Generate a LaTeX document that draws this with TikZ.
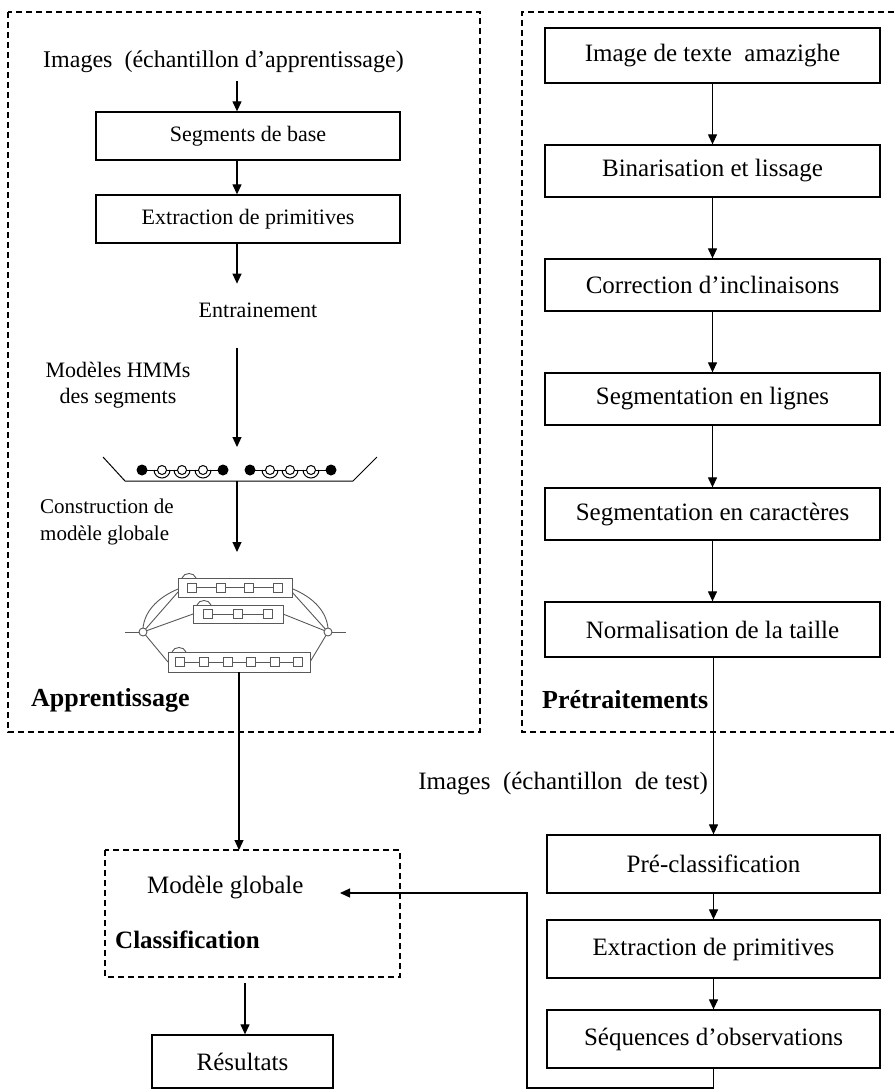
\documentclass[tikz,border=0pt]{standalone}
\usepackage{fontspec}
\setmainfont{Liberation Serif}
\usetikzlibrary{arrows.meta}

\begin{document}
\begin{tikzpicture}[x=1pt,y=-1pt,
  big/.style={font=\fontsize{25}{30}\selectfont},
  mid/.style={font=\fontsize{22}{26}\selectfont},
  txt/.style={inner sep=0pt},
  lbl/.style={inner sep=0pt, font=\fontsize{25}{30}\selectfont\bfseries},
  stepbox/.style={draw, line width=1.3pt, inner sep=0pt},
  group/.style={draw, line width=1.4pt, dash pattern=on 6pt off 4pt},
  arr/.style={line width=1.2pt, -{Triangle[length=10pt,width=9pt]}},
  conn/.style={line width=1.2pt},
  hmm/.style={line width=1pt},
  gm/.style={draw=black!65, line width=0.9pt},
]
\useasboundingbox (0,0) rectangle (894,1092);
\fill[white] (0,0) rectangle (894,1092);

% ---------- group frames ----------
\draw[group] (8,12) rectangle (480,732);
\draw[group] (894,12) -- (522,12) -- (522,732) -- (894,732);
\draw[group] (105,850) rectangle (400,977);

% ---------- learning column ----------
\node[txt, anchor=west, font=\fontsize{24}{28}\selectfont] (imgA) at (43,62) {Images\ \ (échantillon d’apprentissage)};
\node[stepbox, mid, minimum width=304pt, minimum height=48pt] (seg) at (248,136) {Segments de base};
\node[stepbox, mid, minimum width=304pt, minimum height=48pt] (ext) at (248,219) {Extraction de primitives};
\node[txt, mid] (train) at (258,310) {Entrainement};
\node[txt, mid, align=center] (hmmtxt) at (118,385) {Modèles HMMs\\des segments};
\node[txt, align=left, anchor=west, font=\fontsize{21}{27}\selectfont] (build) at (40,522) {Construction de\\modèle globale};
\node[lbl, anchor=west, font=\fontsize{26}{30}\selectfont\bfseries] (appr) at (31,700) {Apprentissage};

\coordinate (col) at (237,0);
\coordinate (chainTop) at (237,447);
\coordinate (chainBot) at (237,481);
\coordinate (gmTop) at (237,552);
\coordinate (gmBot) at (239,672);

\draw[arr] (col |- imgA.south) ++(0,8) -- (col |- seg.north);
\draw[arr] (col |- seg.south) -- (col |- ext.north);
\draw[arr] (col |- ext.south) -- ++(0,40);
\draw[arr] (col |- train.south) ++(0,30) -- (chainTop);
\draw[arr] (chainBot) -- (gmTop);

% segment HMMs in their tray
\draw[hmm] (103,457) -- (125,481) -- (353,481) -- (377,457);
\foreach \cx in {142,250} {
  \draw[hmm] (\cx,470) -- (\cx+81,470);
  \foreach \dx in {20,40,61} {
    \draw[hmm] (\cx+\dx-8,470) arc (180:0:8);
    \draw[hmm, fill=white] (\cx+\dx,470) circle (4.5);
  }
  \fill (\cx,470) circle (5.5);
  \fill (\cx+81,470) circle (5.5);
}

% global model built from the segment HMMs
\coordinate (gL) at (143,632);
\coordinate (gR) at (328,632);
\draw[gm] (125,632) -- (139,632);
\draw[gm] (332,632) -- (346,632);
\draw[gm] (143,628) .. controls (150,562) and (321,562) .. (328,628);
\draw[gm] (gL) -- (178,592);
\draw[gm] (gL) -- (193,614);
\draw[gm] (gL) -- (168,662);
\draw[gm] (gR) -- (292,592);
\draw[gm] (gR) -- (283,614);
\draw[gm] (gR) -- (310,662);
\draw[gm, fill=white] (gL) circle (4);
\draw[gm, fill=white] (gR) circle (4);
\draw[gm, fill=white] (178,578) rectangle (292,597);
\draw[gm, fill=white] (193,605) rectangle (283,623);
\draw[gm, fill=white] (168,652) rectangle (310,672);
\draw[gm] (182,578) .. controls (184,572) and (194,572) .. (196,578);
\draw[gm] (197,605) .. controls (199,599) and (209,599) .. (211,605);
\draw[gm] (172,652) .. controls (174,646) and (184,646) .. (186,652);
\draw[gm] (192,587.5) -- (278,587.5);
\foreach \ux in {192,221,249,278} \draw[gm, fill=white] (\ux-4.5,583) rectangle (\ux+4.5,592);
\draw[gm] (208,614) -- (268,614);
\foreach \ux in {208,238,268} \draw[gm, fill=white] (\ux-4.5,609.5) rectangle (\ux+4.5,618.5);
\draw[gm] (180,662) -- (298,662);
\foreach \ux in {180,204,228,251,275,298} \draw[gm, fill=white] (\ux-4.5,657.5) rectangle (\ux+4.5,666.5);

% ---------- classification ----------
\node[txt, anchor=west, font=\fontsize{25}{30}\selectfont] (mglob) at (147,887) {Modèle globale};
\node[lbl, anchor=west] (cls) at (115,940) {Classification};
\node[stepbox, big, minimum width=181pt, minimum height=53pt] (res) at (242.5,1061.5) {Résultats};
\coordinate (clsTop) at (239,850);
\coordinate (clsBot) at (245,983);
\draw[arr] (gmBot) -- (clsTop);
\draw[arr] (clsBot) -- (res.north -| clsBot);

% ---------- preprocessing column ----------
\node[stepbox, big, minimum width=335pt, minimum height=55pt] (b1) at (712.5,55.5) {Image de texte\ \ amazighe};
\node[stepbox, big, minimum width=335pt, minimum height=52pt] (b2) at (712.5,171) {Binarisation et lissage};
\node[stepbox, big, minimum width=335pt, minimum height=52pt] (b3) at (712.5,285) {Correction d’inclinaisons};
\node[stepbox, big, minimum width=335pt, minimum height=52pt] (b4) at (712.5,399) {Segmentation en lignes};
\node[stepbox, big, minimum width=335pt, minimum height=52pt] (b5) at (712.5,514) {Segmentation en caractères};
\node[stepbox, big, minimum width=335pt, minimum height=55pt] (b6) at (712.5,629.5) {Normalisation de la taille};
\node[lbl, anchor=west, font=\fontsize{26}{30}\selectfont\bfseries] (pre) at (542,700) {Prétraitements};
\draw[arr] (b1) -- (b2);
\draw[arr] (b2) -- (b3);
\draw[arr] (b3) -- (b4);
\draw[arr] (b4) -- (b5);
\draw[arr] (b5) -- (b6);

% ---------- test column ----------
\node[txt, big, anchor=east] (imgT) at (708,783) {Images\ \ (échantillon\ \ de test)};
\node[stepbox, big, minimum width=333pt, minimum height=58pt] (p1) at (713.5,864) {Pré-classification};
\node[stepbox, big, minimum width=333pt, minimum height=58pt] (p2) at (713.5,949) {Extraction de primitives};
\node[stepbox, big, minimum width=333pt, minimum height=58pt] (p3) at (713.5,1039) {Séquences d’observations};
\draw[arr] (b6.south -| p1.north) -- (p1.north);
\draw[arr] (p1) -- (p2);
\draw[arr] (p2) -- (p3);

% observation sequences fed back to the global model
\coordinate (fbA) at (527,1088);
\coordinate (fbB) at (527,893);
\coordinate (fbTip) at (340,893);
\draw[conn] (p3.south) -- (p3.south |- fbA) -- (fbA) -- (fbB) -- ([xshift=4pt]fbTip);
\draw[arr] ([xshift=6pt]fbTip) -- (fbTip);
\end{tikzpicture}
\end{document}
